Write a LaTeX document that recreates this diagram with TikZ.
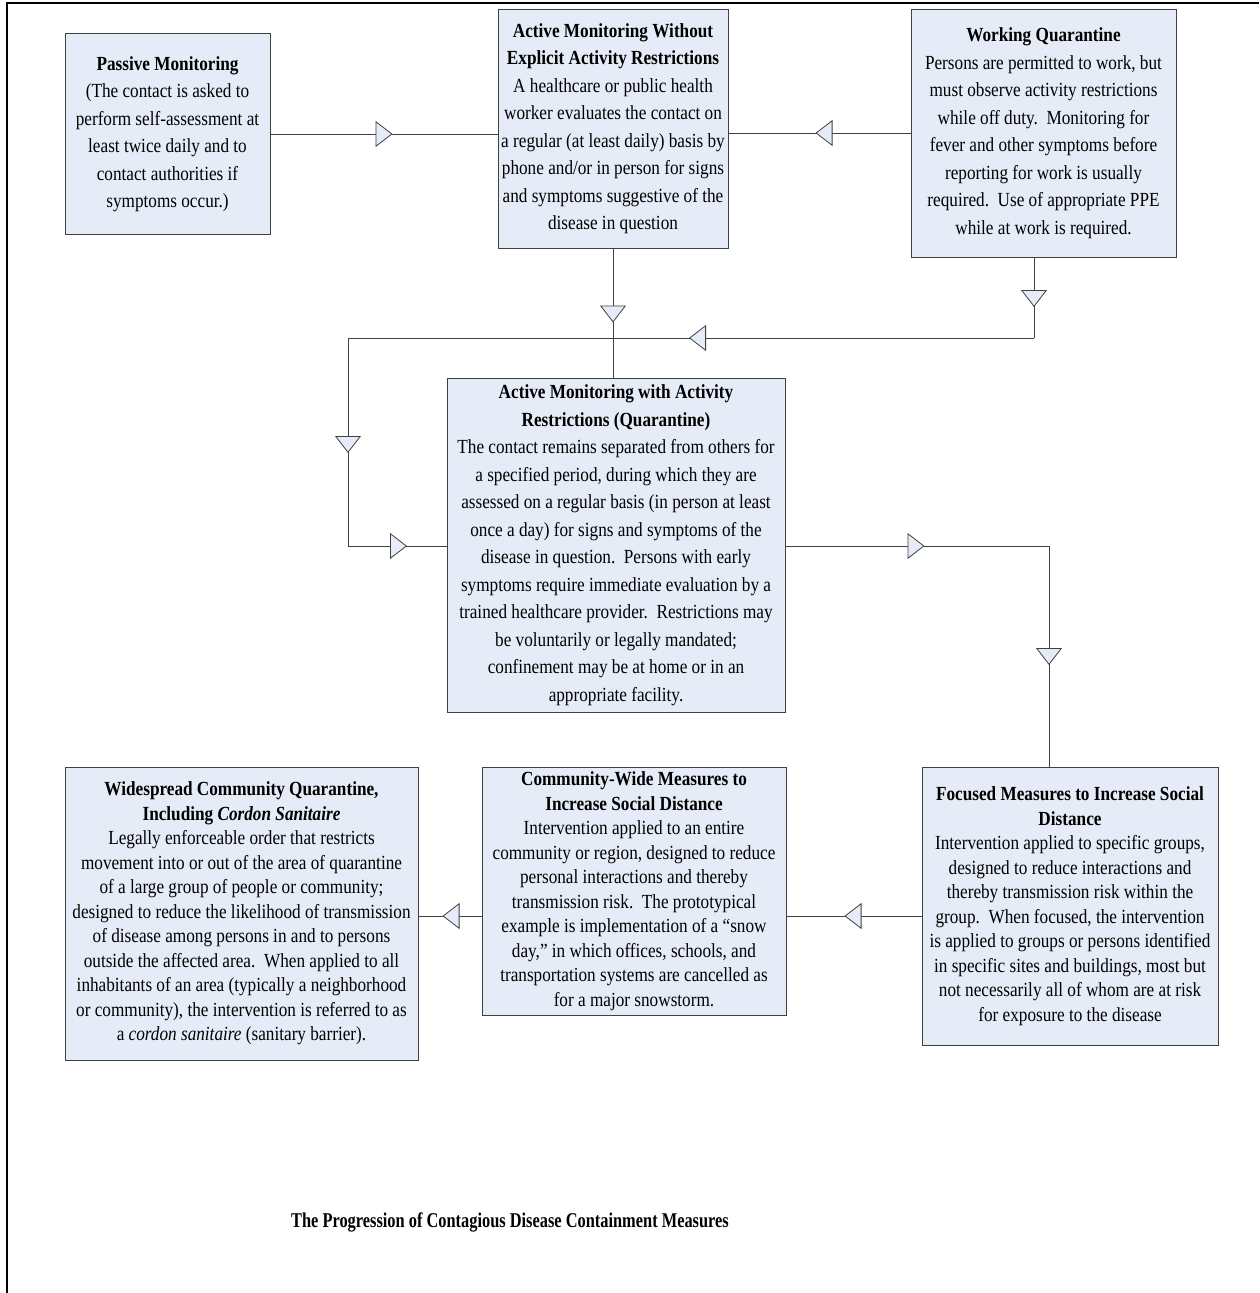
\documentclass[tikz,border=0pt]{standalone}
\usepackage{fontspec}
\setmainfont{Liberation Serif}[FakeStretch=0.86]
\newfontfamily\titlefont{Liberation Serif}[FakeStretch=0.78]
\usetikzlibrary{arrows.meta,decorations.markings,calc}
\definecolor{boxfill}{HTML}{E6ECF7}
\definecolor{edgecol}{HTML}{404040}
\tikzset{
  stepbox/.style={draw=edgecol, fill=boxfill, line width=1pt, align=center, inner sep=0pt,
    font=\fontsize{20}{27.5}\selectfont},
  tightbox/.style={stepbox, font=\fontsize{20}{24.5}\selectfont},
  conn/.style={draw=edgecol, line width=1pt},
  midarr/.style={postaction={decorate}, decoration={markings,
    mark=at position #1 with {\arrow{Triangle[length=17pt,width=26pt,fill=boxfill,line width=0.8pt]}}}}
}
\begin{document}
\begin{tikzpicture}[x=1pt,y=-1pt]
\useasboundingbox (0,0) rectangle (1259,1293);
\draw[line width=1.5pt] (7,1293) -- (7,3) -- (1259,3);

\node[stepbox, minimum width=205pt, minimum height=201pt] (pm) at (167.5,134) {\textbf{Passive Monitoring}\\(The contact is asked to\\perform self-assessment at\\least twice daily and to\\contact authorities if\\symptoms occur.)};

\node[stepbox, minimum width=230pt, minimum height=239pt] (amw) at (613,128.5) {\textbf{Active Monitoring Without}\\\textbf{Explicit Activity Restrictions}\\A healthcare or public health\\worker evaluates the contact on\\a regular (at least daily) basis by\\phone and/or in person for signs\\and symptoms suggestive of the\\disease in question};

\node[stepbox, minimum width=265pt, minimum height=248pt] (wq) at (1043.5,133) {\textbf{Working Quarantine}\\Persons are permitted to work, but\\must observe activity restrictions\\while off duty.\ \ Monitoring for\\fever and other symptoms before\\reporting for work is usually\\required.\ \ Use of appropriate PPE\\while at work is required.};

\node[stepbox, minimum width=338pt, minimum height=334pt] (amr) at (616,545) {\textbf{Active Monitoring with Activity}\\\textbf{Restrictions (Quarantine)}\\The contact remains separated from others for\\a specified period, during which they are\\assessed on a regular basis (in person at least\\once a day) for signs and symptoms of the\\disease in question.\ \ Persons with early\\symptoms require immediate evaluation by a\\trained healthcare provider.\ \ Restrictions may\\be voluntarily or legally mandated;\\confinement may be at home or in an\\appropriate facility.};

\node[tightbox, minimum width=353pt, minimum height=293pt] (wcq) at (241.5,913.5) {\textbf{Widespread Community Quarantine,}\\\textbf{Including \textit{Cordon Sanitaire}}\\Legally enforceable order that restricts\\movement into or out of the area of quarantine\\of a large group of people or community;\\designed to reduce the likelihood of transmission\\of disease among persons in and to persons\\outside the affected area.\ \ When applied to all\\inhabitants of an area (typically a neighborhood\\or community), the intervention is referred to as\\a \textit{cordon sanitaire} (sanitary barrier).};

\node[tightbox, minimum width=304pt, minimum height=248pt] (cwm) at (634,891) {\textbf{Community-Wide Measures to}\\\textbf{Increase Social Distance}\\Intervention applied to an entire\\community or region, designed to reduce\\personal interactions and thereby\\transmission risk.\ \ The prototypical\\example is implementation of a ``snow\\day,'' in which offices, schools, and\\transportation systems are cancelled as\\for a major snowstorm.};

\node[tightbox, minimum width=296pt, minimum height=278pt] (fm) at (1070,906) {\textbf{Focused Measures to Increase Social}\\\textbf{Distance}\\Intervention applied to specific groups,\\designed to reduce interactions and\\thereby transmission risk within the\\group.\ \ When focused, the intervention\\is applied to groups or persons identified\\in specific sites and buildings, most but\\not necessarily all of whom are at risk\\for exposure to the disease};

\node[font=\titlefont\bfseries\fontsize{21}{25}\selectfont] (title) at (510,1222) {The Progression of Contagious Disease Containment Measures};

\coordinate (j0) at (1034,257);
\coordinate (j1) at (1034,338);
\coordinate (j2) at (348,338);
\coordinate (j3) at (348,546);
\coordinate (j4) at (1049,546);
\coordinate (j5) at (0,916);

\draw[conn, midarr=122pt] (pm.east) -- (pm.east -| amw.west);
\draw[conn, midarr=95pt] (wq.west) -- (wq.west -| amw.east);
\draw[conn, midarr=74pt] (amw.south) -- (amw.south |- amr.north);
\draw[conn, midarr=50pt] (j0) -- (j1);
\draw[conn, midarr=345pt] (j1) -- (j2);
\draw[conn, midarr=115pt] (j2) -- (j3);
\draw[conn, midarr=59pt] (j3) -- (j3 -| amr.west);
\draw[conn, midarr=139pt] (amr.east |- j4) -- (j4);
\draw[conn, midarr=119pt] (j4) -- (j4 |- fm.north);
\draw[conn, midarr=77pt] (fm.west |- j5) -- (cwm.east |- j5);
\draw[conn, midarr=39pt] (cwm.west |- j5) -- (wcq.east |- j5);
\end{tikzpicture}
\end{document}
